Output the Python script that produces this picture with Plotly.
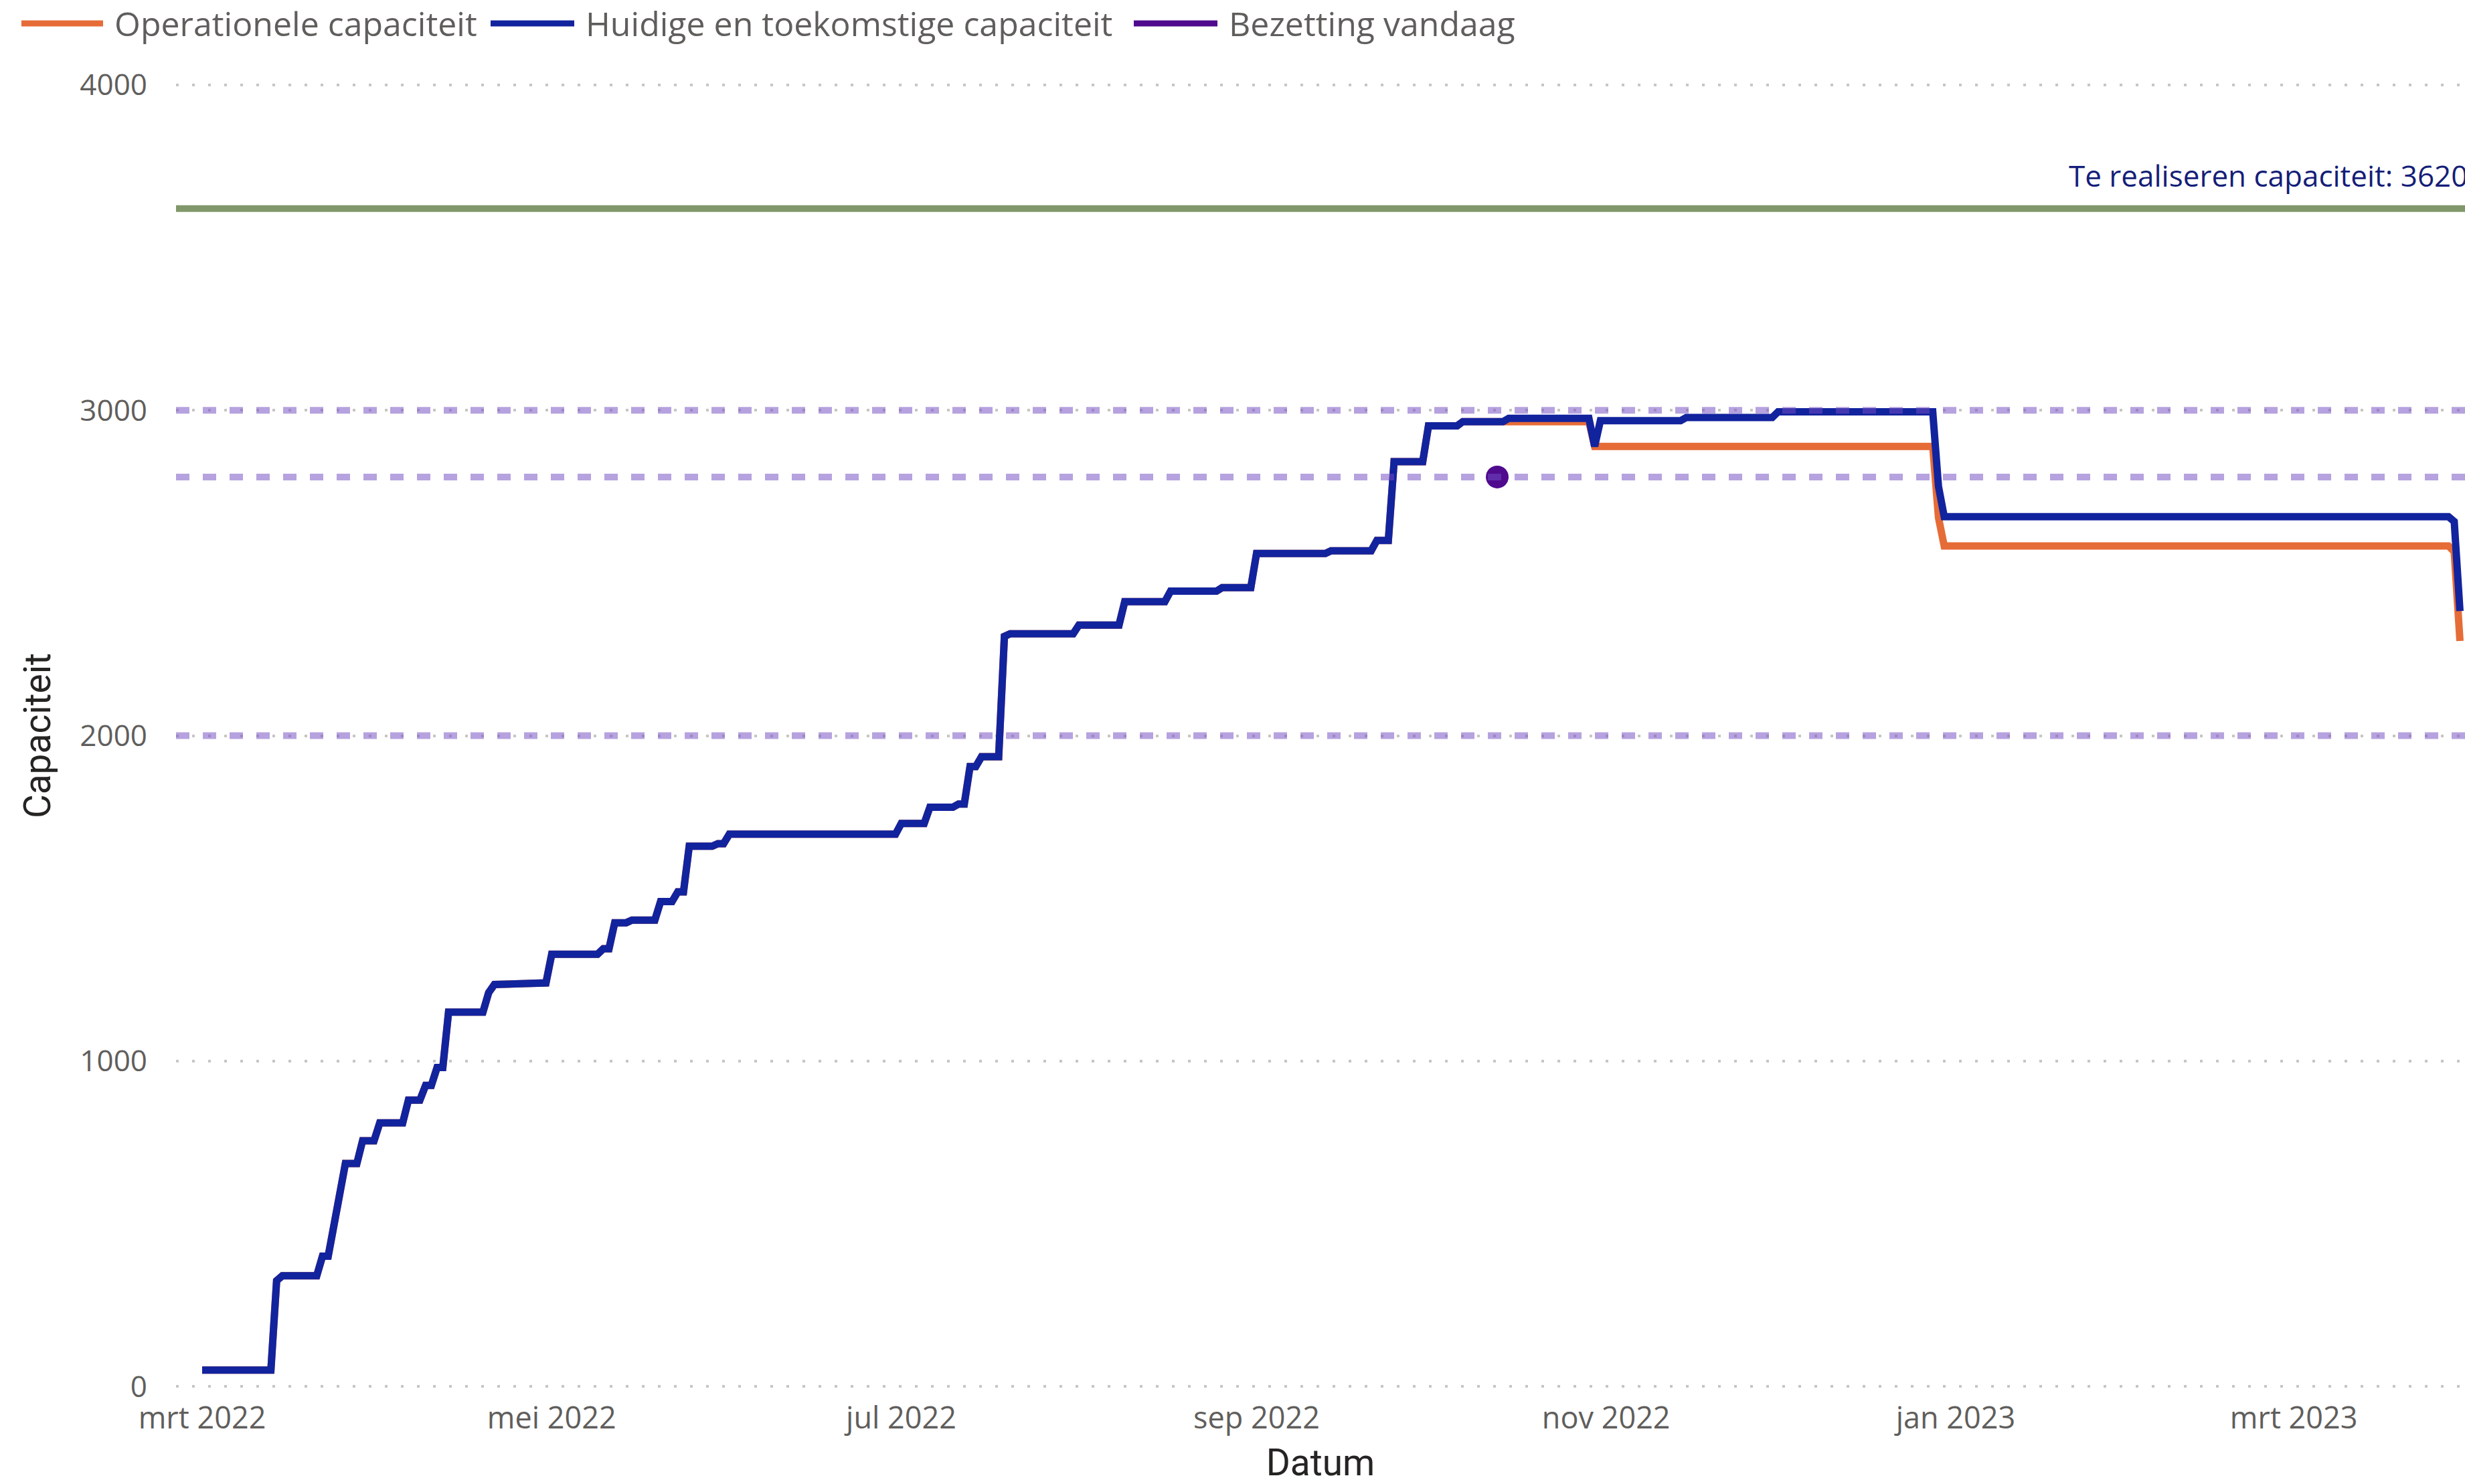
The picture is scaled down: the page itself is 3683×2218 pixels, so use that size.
import plotly.graph_objects as go
import pandas as pd

# ---------------- data ----------------
# Step changes shared by both capacity series (date a new value starts, value)
shared_step_dates = [
    "2022-03-01", "2022-03-14", "2022-03-15", "2022-03-22", "2022-03-24", "2022-03-25",
    "2022-03-26", "2022-03-29", "2022-04-01", "2022-04-06", "2022-04-09", "2022-04-11",
    "2022-04-13", "2022-04-20", "2022-04-21", "2022-04-25", "2022-05-01", "2022-05-10",
    "2022-05-12", "2022-05-15", "2022-05-20", "2022-05-23", "2022-05-25", "2022-05-30",
    "2022-06-01", "2022-07-01", "2022-07-06", "2022-07-11", "2022-07-13", "2022-07-15",
    "2022-07-19", "2022-07-20", "2022-08-01", "2022-08-09", "2022-08-17", "2022-08-26",
    "2022-09-01", "2022-09-14", "2022-09-22", "2022-09-25", "2022-10-01", "2022-10-07",
]
shared_step_values = [
    50, 325, 340, 400, 490, 590,
    685, 755, 810, 880, 925, 980,
    1150, 1210, 1235, 1240, 1328, 1345,
    1425, 1433, 1490, 1520, 1660, 1668,
    1697, 1730, 1780, 1790, 1905, 1935,
    2305, 2313, 2340, 2412, 2444, 2455,
    2560, 2568, 2600, 2842, 2952, 2965,
]

# Later steps of "Huidige en toekomstige capaciteit"
huidige_late_dates = [
    "2022-10-15", "2022-10-30", "2022-10-31", "2022-11-15", "2022-12-01",
    "2022-12-29", "2022-12-30", "2023-03-29", "2023-03-30",
]
huidige_late_values = [2975, 2889, 2968, 2978, 2995, 2766, 2673, 2658, 2383]

# Later steps of "Operationele capaciteit"
operationele_late_dates = ["2022-10-30", "2022-12-29", "2022-12-30", "2023-03-29", "2023-03-30"]
operationele_late_values = [2889, 2670, 2583, 2565, 2291]

bezetting_date = "2022-10-13"
bezetting_value = 2795
target_value = 3620
dashed_levels = [3000, bezetting_value, 2000]

x_range = ["2022-02-24 10:41", "2023-03-30 21:07"]
x_tick_dates = ["2022-03-01", "2022-05-01", "2022-07-01", "2022-09-01",
                "2022-11-01", "2023-01-01", "2023-03-01"]
x_tick_labels = ["mrt 2022", "mei 2022", "jul 2022", "sep 2022",
                 "nov 2022", "jan 2023", "mrt 2023"]
y_range = [-10, 4010]
y_tick_values = [0, 1000, 2000, 3000, 4000]
y_tick_labels = ["0", "1000", "2000", "3000", "4000"]

series_names = ["Operationele capaciteit", "Huidige en toekomstige capaciteit", "Bezetting vandaag"]

# ---------------- styles ----------------
C_ORANGE = "#E66C37"
C_BLUE = "#12239E"
C_PURPLE = "#4F0A8E"
C_GREEN = "#80976A"
C_DASH = "rgba(115,77,193,0.52)"
C_GRID = "#C8C6C4"
C_TICK = "#605E5C"
C_TITLE = "#252423"
C_ANNOT = "#141E78"
FONT = "Open Sans"

W, H = 3683, 2218
PL, PR = 263, 3683
PT, PB = 122, 2077  # plot area edges in pixels (range padded by 10 units)


def px_x(p):
    return (p - PL) / (PR - PL)


def px_y(p):
    return (PB - p) / (PB - PT)


def step_vertices(dates, values):
    xs, ys = [], []
    prev = None
    for d, v in zip(pd.to_datetime(dates), values):
        if prev is not None:
            day_before = d - pd.Timedelta(days=1)
            if day_before > xs[-1]:
                xs.append(day_before)
                ys.append(prev)
        xs.append(d)
        ys.append(v)
        prev = v
    return xs, ys


op_x, op_y = step_vertices(shared_step_dates + operationele_late_dates,
                           shared_step_values + operationele_late_values)
hu_x, hu_y = step_vertices(shared_step_dates + huidige_late_dates,
                           shared_step_values + huidige_late_values)

fig = go.Figure()
fig.add_trace(go.Scatter(x=op_x, y=op_y, mode="lines", name=series_names[0],
                         line=dict(color=C_ORANGE, width=11), showlegend=False))
fig.add_trace(go.Scatter(x=hu_x, y=hu_y, mode="lines", name=series_names[1],
                         line=dict(color=C_BLUE, width=11), showlegend=False))
fig.add_trace(go.Scatter(x=[bezetting_date], y=[bezetting_value], mode="markers",
                         name=series_names[2],
                         marker=dict(color=C_PURPLE, size=34, line=dict(width=0)),
                         showlegend=False))

shapes = []
# target line
shapes.append(dict(type="line", xref="paper", x0=0, x1=1, yref="y",
                   y0=target_value, y1=target_value,
                   line=dict(color=C_GREEN, width=10), layer="below"))
# dashed reference lines (above traces, translucent)
for lvl in dashed_levels:
    shapes.append(dict(type="line", xref="paper", x0=0, x1=1, yref="y", y0=lvl, y1=lvl,
                       line=dict(color=C_DASH, width=10, dash="20px,20px"), layer="above"))

# manual legend
legend_items = [
    (series_names[0], C_ORANGE, 32, 154, 169),
    (series_names[1], C_BLUE, 733, 858, 873),
    (series_names[2], C_PURPLE, 1694, 1819, 1834),
]
annotations = []
LEG_Y = 35
for name, col, xs0, xs1, xt in legend_items:
    shapes.append(dict(type="line", xref="paper", yref="paper",
                       x0=px_x(xs0), x1=px_x(xs1), y0=px_y(LEG_Y), y1=px_y(LEG_Y),
                       line=dict(color=col, width=9)))
    annotations.append(dict(text=name, xref="paper", yref="paper", x=px_x(xt), y=px_y(LEG_Y),
                            xanchor="left", yanchor="middle", showarrow=False,
                            font=dict(family=FONT, size=50, color=C_TICK)))

annotations.append(dict(text=f"Te realiseren capaciteit: {target_value}",
                        xref="paper", x=px_x(3089), xanchor="left",
                        yref="y", y=target_value, yshift=50, yanchor="middle",
                        showarrow=False, font=dict(family=FONT, size=44, color=C_ANNOT)))

fig.update_layout(
    width=W, height=H,
    margin=dict(l=PL, r=W - PR, t=PT, b=H - PB, pad=0),
    paper_bgcolor="white", plot_bgcolor="white",
    shapes=shapes, annotations=annotations,
    showlegend=False,
    font=dict(family=FONT, color=C_TICK),
)
fig.update_xaxes(
    type="date", range=x_range, tickvals=x_tick_dates, ticktext=x_tick_labels,
    showgrid=False, zeroline=False, showline=False, ticks="",
    tickfont=dict(family=FONT, size=45, color=C_TICK), ticklabelstandoff=12,
    title=dict(text="Datum", font=dict(family="Roboto", size=55, color=C_TITLE), standoff=31),
)
fig.update_yaxes(
    range=y_range, tickvals=y_tick_values, ticktext=y_tick_labels,
    showgrid=True, gridcolor=C_GRID, gridwidth=4, griddash="4px,20px",
    zeroline=False, showline=False, ticks="",
    tickfont=dict(family=FONT, size=44, color=C_TICK), ticklabelstandoff=42,
    title=dict(text="Capaciteit", font=dict(family="Roboto", size=55, color=C_TITLE), standoff=26),
)

fig.write_html("out.html", config={"displayModeBar": False},
               post_script="document.body.style.margin='0';document.body.style.overflow='hidden';")
